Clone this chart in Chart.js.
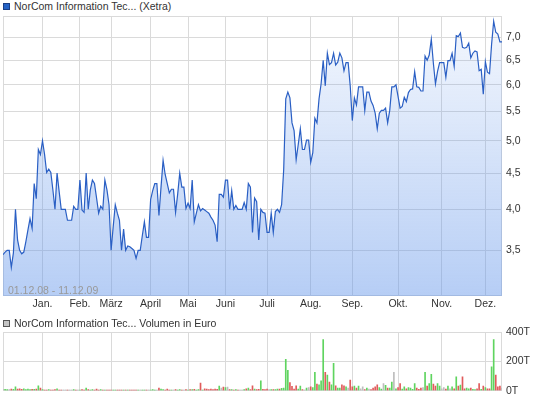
<!DOCTYPE html>
<html>
<head>
<meta charset="utf-8">
<script src="https://cdn.jsdelivr.net/npm/chart.js@4.4.1/dist/chart.umd.min.js"></script>
<style>
  html, body { margin: 0; padding: 0; background: #fff; }
  body { width: 545px; height: 401px; position: relative; overflow: hidden;
         font-family: "Liberation Sans", Arial, sans-serif; font-size: 10.5px; color: #333; }
  .legend { position: absolute; left: 0; height: 12px; line-height: 12px; white-space: nowrap; }
  .legend i { position: absolute; left: 3px; top: 3px; width: 5px; height: 5px; border: 1px solid #333; }
  .legend span { position: absolute; left: 14px; top: 0; }
  #priceCanvas { position: absolute; left: 0; top: 0; }
  #volCanvas { position: absolute; left: 0; top: 312px; }
  #range { position: absolute; left: 8px; top: 284px; line-height: 12px; color: #999; white-space: nowrap; }
</style>
</head>
<body>
<div class="legend" style="top:0px"><i style="background:#2563c6;border-color:#1b3f85"></i><span>NorCom Information Tec... (Xetra)</span></div>
<canvas id="priceCanvas" width="545" height="315"></canvas>
<div id="range">01.12.08 - 11.12.09</div>
<div class="legend" style="top:317px"><i style="background:#c4c4c4;border-color:#555"></i><span>NorCom Information Tec... Volumen in Euro</span></div>
<canvas id="volCanvas" width="545" height="89"></canvas>
<script>
// month labels and the trading day index where each month starts
const monthLabels = ['Jan.', 'Feb.', 'März', 'April', 'Mai', 'Juni', 'Juli', 'Aug.', 'Sep.', 'Okt.', 'Nov.', 'Dez.'];
const monthStarts = [19, 37, 52, 71, 89, 107, 127, 148, 168, 190, 211, 232];
const priceTicks = [3.5, 4.0, 4.5, 5.0, 5.5, 6.0, 6.5, 7.0];
const volumeTicks = [0, 200, 400];

// closing prices (EUR), one per trading day, 01.12.08 - 11.12.09
const closeDec08 = [3.45, 3.48, 3.50, 3.50, 3.31, 3.47, 4.00, 3.62, 3.50, 3.46, 3.48, 3.60, 3.74, 3.88, 3.76, 4.35, 4.14, 4.86, 4.78];
const closeJan = [5.00, 4.78, 4.51, 4.56, 4.51, 4.26, 4.00, 4.50, 4.24, 4.00, 4.00, 4.00, 3.86, 3.86, 3.86, 4.04, 4.00, 4.00];
const closeFeb = [4.40, 3.99, 3.96, 4.50, 4.00, 4.26, 4.40, 4.35, 4.15, 3.95, 4.04, 4.00, 4.40, 4.26, 4.06];
const closeMar = [3.50, 3.78, 4.06, 3.95, 3.86, 3.50, 3.75, 3.50, 3.55, 3.54, 3.52, 3.50, 3.41, 3.50, 3.50, 3.67, 3.84, 3.65, 3.65];
const closeApr = [4.13, 4.25, 4.35, 4.35, 3.92, 4.30, 4.69, 4.48, 4.35, 4.22, 4.27, 4.27, 3.96, 4.20, 4.50, 4.30, 4.30, 4.01];
const closeMay = [4.08, 4.01, 4.40, 3.84, 3.95, 4.06, 3.98, 4.01, 3.99, 3.97, 3.95, 3.90, 3.86, 3.80, 3.60, 4.20, 4.20, 4.16];
const closeJun = [4.40, 4.40, 4.00, 4.25, 4.00, 4.05, 4.00, 4.00, 4.00, 4.09, 4.00, 4.35, 4.30, 3.71, 4.15, 4.10, 3.62, 4.00, 3.96, 3.95];
const closeJul = [3.71, 3.71, 3.95, 3.71, 3.97, 4.00, 3.96, 4.06, 4.55, 5.73, 5.86, 5.75, 5.30, 5.17, 4.70, 4.94, 5.20, 4.86, 4.86, 5.01, 5.01];
const closeAug = [4.66, 4.81, 5.38, 5.30, 5.73, 6.02, 6.50, 5.98, 6.65, 6.41, 6.45, 6.65, 6.40, 6.46, 6.65, 6.55, 6.28, 6.45, 6.45, 5.98];
const closeSep = [5.34, 5.75, 5.62, 5.96, 5.96, 5.96, 5.52, 5.86, 5.86, 5.69, 5.61, 5.47, 5.20, 5.47, 5.52, 5.52, 5.56, 5.30, 5.52, 5.96, 5.96, 6.00];
const closeOct = [5.78, 5.56, 5.59, 5.76, 5.68, 5.85, 5.91, 5.92, 6.26, 5.96, 5.95, 5.88, 5.88, 6.59, 6.50, 6.61, 6.96, 6.43, 6.02, 6.27, 6.45];
const closeNov = [6.45, 6.45, 6.15, 6.49, 6.49, 6.65, 6.37, 7.04, 7.02, 7.10, 6.78, 6.76, 6.78, 6.87, 6.55, 6.65, 6.70, 6.68, 6.28, 6.31, 5.82];
const closeDec09 = [6.47, 6.25, 6.22, 6.85, 7.38, 7.12, 7.08, 6.90, 6.90];

// traded volume (thousand EUR), same days
const volDec08 = [9, 9, 7, 7, 11, 9, 27, 11, 13, 9, 13, 7, 11, 7, 9, 9, 11, 34, 18];
const volJan = [7, 5, 5, 7, 5, 5, 7, 13, 5, 5, 4, 4, 5, 4, 5, 7, 4, 5];
const volFeb = [5, 7, 5, 18, 7, 5, 7, 5, 11, 5, 7, 5, 5, 4, 5];
const volMar = [4, 4, 5, 4, 4, 4, 5, 4, 4, 4, 4, 5, 4, 4, 5, 4, 4, 5, 4];
const volApr = [5, 7, 5, 5, 18, 11, 7, 5, 11, 5, 5, 5, 7, 5, 7, 5, 5, 7];
const volMay = [5, 7, 7, 9, 5, 7, 52, 5, 13, 11, 7, 11, 7, 11, 9, 31, 18, 25];
const volJun = [22, 25, 7, 7, 5, 7, 5, 5, 5, 7, 13, 18, 7, 34, 11, 7, 9, 67, 9, 7];
const volJul = [11, 7, 7, 7, 7, 11, 11, 16, 18, 213, 139, 56, 29, 11, 34, 11, 31, 7, 5, 18, 22];
const volAug = [27, 22, 126, 45, 40, 67, 348, 126, 106, 58, 40, 187, 34, 18, 18, 40, 34, 27, 18, 72];
const volSep = [27, 31, 18, 31, 13, 27, 7, 18, 11, 7, 18, 27, 40, 22, 11, 49, 36, 18, 18, 58, 126, 13];
const volOct = [22, 49, 11, 27, 13, 22, 18, 9, 49, 18, 9, 18, 22, 126, 31, 49, 112, 45, 31, 49, 31];
const volNov = [13, 22, 11, 31, 13, 27, 13, 94, 31, 38, 94, 13, 18, 13, 18, 9, 7, 13, 49, 9, 31];
const volDec09 = [22, 13, 13, 162, 348, 106, 27, 31, 18];

const closes = [].concat(closeDec08, closeJan, closeFeb, closeMar, closeApr, closeMay, closeJun,
  closeJul, closeAug, closeSep, closeOct, closeNov, closeDec09);
const volumes = [].concat(volDec08, volJan, volFeb, volMar, volApr, volMay, volJun,
  volJul, volAug, volSep, volOct, volNov, volDec09);
const lastIndex = closes.length - 1;

Chart.defaults.font.family = '"Liberation Sans", Arial, sans-serif';
Chart.defaults.font.size = 10.5;
Chart.defaults.color = '#333';

const gridColor = '#dadada';

// thin frame round the plot area
const plotFrame = {
  id: 'plotFrame',
  beforeDatasetsDraw(chart) {
    const { ctx, chartArea: a } = chart;
    ctx.save();
    ctx.strokeStyle = gridColor;
    ctx.lineWidth = 1;
    ctx.strokeRect(a.left + 0.5, a.top + 0.5, a.right - a.left - 1, a.bottom - a.top - 1);
    ctx.restore();
  }
};

function fillGradient(context) {
  const { ctx, chartArea } = context.chart;
  if (!chartArea) return 'rgba(100,150,234,0.3)';
  const g = ctx.createLinearGradient(0, chartArea.top, 0, chartArea.bottom);
  g.addColorStop(0, 'rgba(100,150,234,0.07)');
  g.addColorStop(1, 'rgba(100,150,234,0.47)');
  return g;
}

function monthAxis(showLabels, height) {
  return {
    type: 'linear',
    min: 0,
    max: lastIndex,
    offset: false,
    afterBuildTicks: scale => { scale.ticks = monthStarts.map(v => ({ value: v })); },
    afterFit: scale => { scale.height = height; },
    grid: { color: gridColor, drawTicks: false, offset: false },
    border: { display: false },
    ticks: {
      display: showLabels,
      autoSkip: false,
      maxRotation: 0,
      padding: 2,
      callback: (v, i) => monthLabels[i]
    }
  };
}

new Chart(document.getElementById('priceCanvas'), {
  type: 'line',
  data: {
    datasets: [{
      data: closes.map((c, i) => ({ x: i, y: c })),
      borderColor: '#2a5fc4',
      borderWidth: 1.2,
      pointRadius: 0,
      tension: 0,
      fill: 'start',
      backgroundColor: fillGradient
    }]
  },
  options: {
    responsive: false,
    devicePixelRatio: 1,
    animation: false,
    events: [],
    layout: { padding: { left: 3, top: 16, right: 0, bottom: 0 } },
    plugins: { legend: { display: false }, tooltip: { enabled: false } },
    scales: {
      x: monthAxis(true, 19),
      y: {
        type: 'logarithmic',
        position: 'right',
        min: 3.016,
        max: 7.507,
        afterBuildTicks: scale => { scale.ticks = priceTicks.map(v => ({ value: v })); },
        afterFit: scale => { scale.width = 43; },
        grid: { color: gridColor, drawTicks: false },
        border: { display: false },
        ticks: { padding: 4, callback: v => v.toFixed(1).replace('.', ',') }
      }
    }
  },
  plugins: [plotFrame]
});

// green if the close rose, red if it fell, grey if unchanged
const barColors = closes.map((c, i) => {
  if (i === 0 || c === closes[i - 1]) return '#bdbdbd';
  return c > closes[i - 1] ? '#5fd45f' : '#e05b5b';
});

new Chart(document.getElementById('volCanvas'), {
  type: 'bar',
  data: {
    datasets: [{
      data: volumes.map((v, i) => ({ x: i, y: v })),
      backgroundColor: barColors,
      barThickness: 1,
      borderWidth: 0
    }]
  },
  options: {
    responsive: false,
    devicePixelRatio: 1,
    animation: false,
    events: [],
    layout: { padding: { left: 3, top: 20, right: 0, bottom: 0 } },
    plugins: { legend: { display: false }, tooltip: { enabled: false } },
    scales: {
      x: monthAxis(false, 10),
      y: {
        position: 'right',
        min: 0,
        max: 400,
        afterBuildTicks: scale => { scale.ticks = volumeTicks.map(v => ({ value: v })); },
        afterFit: scale => { scale.width = 43; },
        grid: { color: gridColor, drawTicks: false },
        border: { display: false },
        ticks: { padding: 4, callback: v => v + 'T' }
      }
    }
  },
  plugins: [plotFrame]
});
</script>
</body>
</html>
